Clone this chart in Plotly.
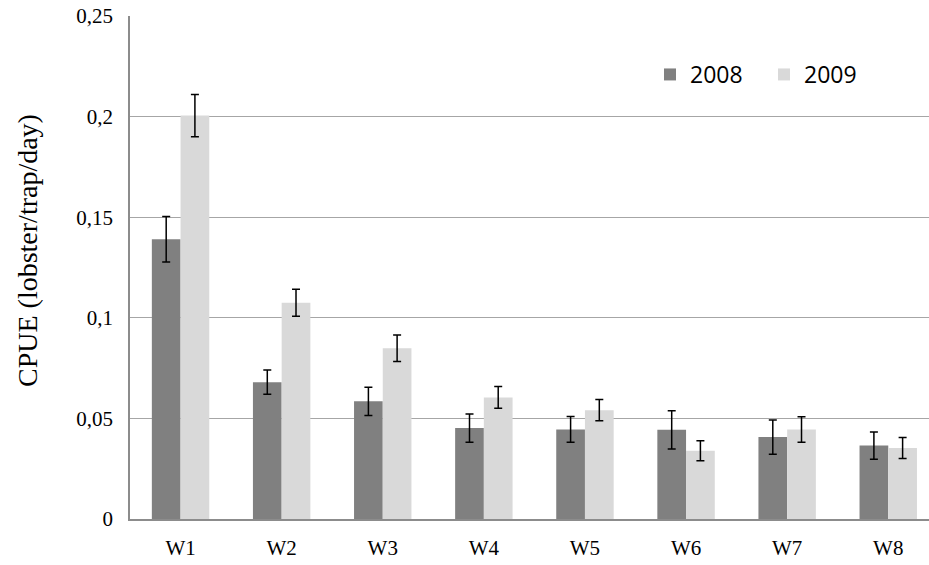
import plotly.graph_objects as go

categories = ["W1", "W2", "W3", "W4", "W5", "W6", "W7", "W8"]
cpue_2008 = [0.139, 0.068, 0.0585, 0.0452, 0.0445, 0.0443, 0.0407, 0.0365]
err_2008 = [0.0113, 0.006, 0.007, 0.007, 0.0064, 0.0095, 0.0085, 0.0068]
cpue_2009 = [0.2005, 0.1075, 0.0849, 0.0604, 0.0541, 0.0339, 0.0445, 0.0353]
err_2009 = [0.0105, 0.0067, 0.0066, 0.0054, 0.0053, 0.005, 0.0063, 0.0052]
y_tickvals = [0, 0.05, 0.1, 0.15, 0.2, 0.25]
y_ticktext = ["0", "0,05", "0,1", "0,15", "0,2", "0,25"]

err_style = dict(type="data", visible=True, color="black", thickness=1.5, width=4)
serif = "Liberation Serif, Times New Roman, serif"

fig = go.Figure()
fig.add_trace(go.Bar(
    name="2008", x=categories, y=cpue_2008,
    marker=dict(color="#808080", line=dict(width=0)),
    error_y=dict(array=err_2008, **err_style),
))
fig.add_trace(go.Bar(
    name="2009", x=categories, y=cpue_2009,
    marker=dict(color="#d9d9d9", line=dict(width=0)),
    error_y=dict(array=err_2009, **err_style),
))

fig.update_layout(
    width=929, height=565,
    margin=dict(l=130, r=0, t=16, b=46),
    paper_bgcolor="white", plot_bgcolor="white",
    barmode="group", bargap=0.432, bargroupgap=0,
    showlegend=True,
    legend=dict(
        orientation="h", x=(650 - 130) / 799, xanchor="left", y=(519 - 53) / 503, yanchor="top",
        font=dict(family="Open Sans", size=23, color="black"),
        bgcolor="rgba(0,0,0,0)", entrywidth=69, entrywidthmode="pixels",
    ),
    xaxis=dict(
        range=[-0.5, 7.403], showgrid=False, showline=True, linecolor="#8c8c8c", linewidth=1.5,
        ticks="", tickfont=dict(family=serif, size=21, color="black"),
        ticklabelstandoff=9,
    ),
    yaxis=dict(
        range=[0, 0.25], tickvals=y_tickvals, ticktext=y_ticktext,
        showgrid=True, gridcolor="#a6a6a6", gridwidth=1.3,
        showline=True, linecolor="#8c8c8c", linewidth=1.5, zeroline=False,
        ticks="", tickfont=dict(family=serif, size=21, color="black"),
        ticklabelstandoff=11,
    ),
    annotations=[dict(
        text="CPUE (lobster/trap/day)", textangle=-90,
        xref="paper", yref="paper", x=(27 - 130) / 799, y=(519 - 250) / 503,
        xanchor="center", yanchor="middle", showarrow=False,
        font=dict(family=serif, size=28, color="black"),
    )],
)

fig.write_html("out.html", config={"displayModeBar": False},
               post_script="document.body.style.margin='0';")
